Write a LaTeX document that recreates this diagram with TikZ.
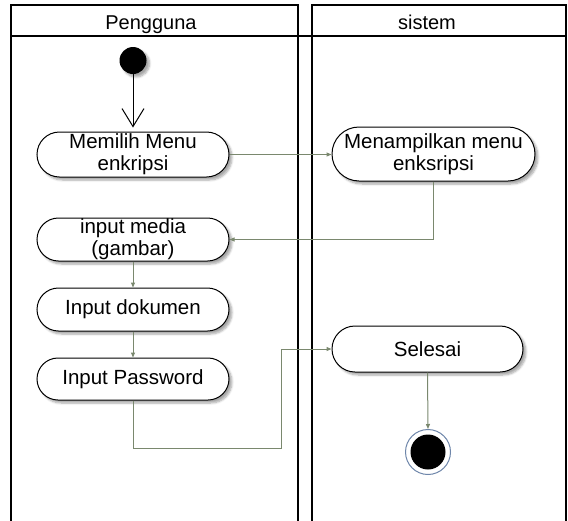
\documentclass[tikz,border=0pt]{standalone}
\usepackage{fontspec}
\setmainfont{Liberation Sans}
\usetikzlibrary{arrows.meta,shapes.misc,shadows.blur}

\definecolor{flowline}{RGB}{122,136,110}
\definecolor{ringblue}{RGB}{110,134,170}

\tikzset{
  lane/.style={draw=black, line width=2.8pt},
  act/.style={rounded rectangle, draw=black, line width=1pt, fill=white,
    inner sep=0pt, align=center,
    font=\fontsize{20.5}{22}\selectfont,
    blur shadow={shadow xshift=3pt, shadow yshift=-3pt, shadow blur steps=6, shadow opacity=35}},
  flow/.style={draw=flowline, line width=1pt, -{Triangle[length=5pt,width=4pt]}},
  lanetitle/.style={font=\fontsize{20}{22}\selectfont, anchor=base},
}

\begin{document}
\begin{tikzpicture}[x=1pt, y=-1pt]
  \clip (0,0) rectangle (568,520);

  % swimlanes
  \draw[lane] (11,530) -- (11,5) -- (298,5) -- (298,530);
  \draw[lane] (312,530) -- (312,5) -- (566,5) -- (566,530);
  \draw[lane] (11,36) -- (566,36);
  \node[lanetitle] (userlane) at (151,29) {Pengguna};
  \node[lanetitle] (syslane) at (427,29) {sistem};

  % initial state
  \node[circle, fill=black, minimum size=27pt, inner sep=0pt,
        blur shadow={shadow xshift=3pt, shadow yshift=-3pt, shadow blur steps=6, shadow opacity=35}]
        (start) at (133,60.5) {};

  % activities
  \node[act, minimum width=192pt, minimum height=45pt] (pilih) at (133,154.5) {Memilih Menu\\enkripsi};
  \node[act, minimum width=192pt, minimum height=43pt] (media) at (133,239.5) {input media\\(gambar)};
  \node[act, minimum width=192pt, minimum height=43pt] (dokumen) at (133,309.5) {Input dokumen};
  \node[act, minimum width=192pt, minimum height=42pt] (password) at (133,379) {Input Password};
  \node[act, minimum width=203pt, minimum height=54pt] (tampil) at (433.5,154) {Menampilkan menu\\enksripsi};
  \node[act, minimum width=191pt, minimum height=46pt] (selesai) at (427.5,349) {Selesai};

  % final state
  \node[circle, draw=ringblue, line width=1pt, fill=white, minimum size=45pt, inner sep=0pt] (akhir) at (428,452) {};
  \node[circle, fill=black, minimum size=35pt, inner sep=0pt] (akhirdot) at (akhir.center) {};

  % transitions
  \draw[black, line width=1pt, shorten >=4pt, -{Straight Barb[length=18pt,width=22pt,line width=1pt]}] (start.south) -- (pilih.north);
  \draw[flow] (pilih.east) -- (pilih.east -| tampil.west);
  \draw[flow] (tampil.south) |- (media.east);
  \draw[flow] (media.south) -- (dokumen.north);
  \draw[flow] (dokumen.south) -- (password.north);
  \coordinate (belok) at (281,448);
  \draw[flow] (password.south) |- (belok) |- (selesai.west);
  \draw[flow] (selesai.south) -- (akhir.north);
\end{tikzpicture}
\end{document}
